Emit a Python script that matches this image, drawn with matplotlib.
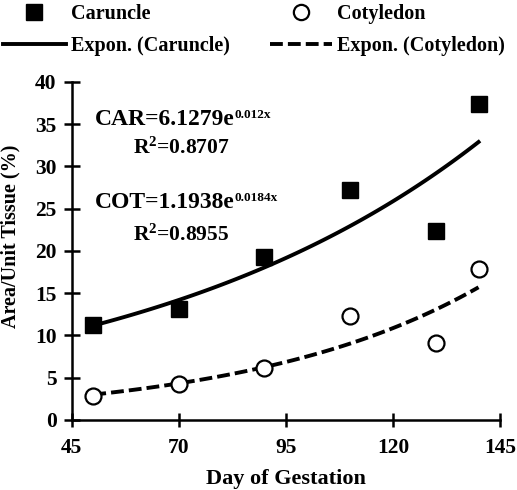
import numpy as np
import matplotlib.pyplot as plt
from matplotlib.lines import Line2D

plt.rcParams['font.family'] = ['Liberation Serif', 'DejaVu Serif']
plt.rcParams['font.weight'] = 'bold'
plt.rcParams['mathtext.fontset'] = 'custom'
plt.rcParams['mathtext.rm'] = 'Liberation Serif:bold'
plt.rcParams['mathtext.it'] = 'Liberation Serif:bold'
plt.rcParams['mathtext.bf'] = 'Liberation Serif:bold'
plt.rcParams['mathtext.default'] = 'regular'

# data
days = [50, 70, 90, 110, 130, 140]
caruncle = [11.2, 13.1, 19.3, 27.2, 22.3, 37.4]
cotyledon = [2.8, 4.3, 6.1, 12.3, 9.1, 17.9]

# trendline coefficients shown on the chart
car_a, car_b = 6.1279, 0.012
cot_a, cot_b = 1.1938, 0.0184

xticks = [45, 70, 95, 120, 145]
yticks = [0, 5, 10, 15, 20, 25, 30, 35, 40]

fig = plt.figure(figsize=(5.17, 4.9), dpi=100)
ax = fig.add_axes([0.139, 0.143, 0.828, 0.69])

dash = (3.3, 1.3)
xx = np.linspace(min(days), max(days), 100)
ax.plot(xx, car_a * np.exp(car_b * xx), color='black', lw=2.8)
ax.plot(xx, cot_a * np.exp(cot_b * xx), color='black', lw=2.8, dashes=dash)
ax.plot(days, caruncle, 's', color='black', ms=12, ls='none')
ax.plot(days, cotyledon, 'o', mfc='white', mec='black', mew=1.6, ms=11.5, ls='none')

ax.set_xlim(45, 145)
ax.set_ylim(0, 40)
ax.set_xticks(xticks)
ax.set_yticks(yticks)
for s in ['top', 'right']:
    ax.spines[s].set_visible(False)
for s in ['left', 'bottom']:
    ax.spines[s].set_linewidth(1.8)
ax.tick_params(axis='x', direction='inout', length=10, width=1.8, labelsize=15.5, pad=8)
ax.tick_params(axis='y', direction='inout', length=12, width=1.8, labelsize=15.5, pad=5)
ax.set_xlabel('Day of Gestation', fontsize=16, fontweight='bold')
ax.set_ylabel('Area/Unit Tissue (%)', fontsize=14.5, fontweight='bold')
ax.xaxis.set_label_coords(0.5, -0.145)
ax.yaxis.set_label_coords(-0.119, 0.544)

# trendline equations, exponent drawn as a small text after the main one
def equation(x, y, main, expo):
    t = ax.text(x, y, main, fontsize=17, ha='left', va='center')
    ax.annotate(expo, xy=(1, 1), xycoords=t, ha='left', va='top', fontsize=9.5)

equation(50.4, 35.5, 'CAR=6.1279e', '0.012x')
ax.text(59.2, 32.2, r'R$^{2}$=0.8707', fontsize=15.5, ha='left', va='center')
equation(50.4, 25.7, 'COT=1.1938e', '0.0184x')
ax.text(59.2, 21.9, r'R$^{2}$=0.8955', fontsize=15.5, ha='left', va='center')

handles = [
    Line2D([], [], marker='s', color='black', ms=11, ls='none'),
    Line2D([], [], color='black', lw=2.8),
    Line2D([], [], marker='o', mfc='white', mec='black', mew=1.6, ms=11, ls='none'),
    Line2D([], [], color='black', lw=2.8, dashes=dash),
]
labels = ['Caruncle', 'Expon. (Caruncle)', 'Cotyledon', 'Expon. (Cotyledon)']
fig.legend(handles, labels, ncol=2, loc='upper left', bbox_to_anchor=(0.006, 0.992),
           frameon=False, fontsize=14.5, handlelength=3.1, handletextpad=0.25,
           columnspacing=2.0, labelspacing=0.6, borderaxespad=0, borderpad=0)

fig.savefig('out.png', dpi=100)
